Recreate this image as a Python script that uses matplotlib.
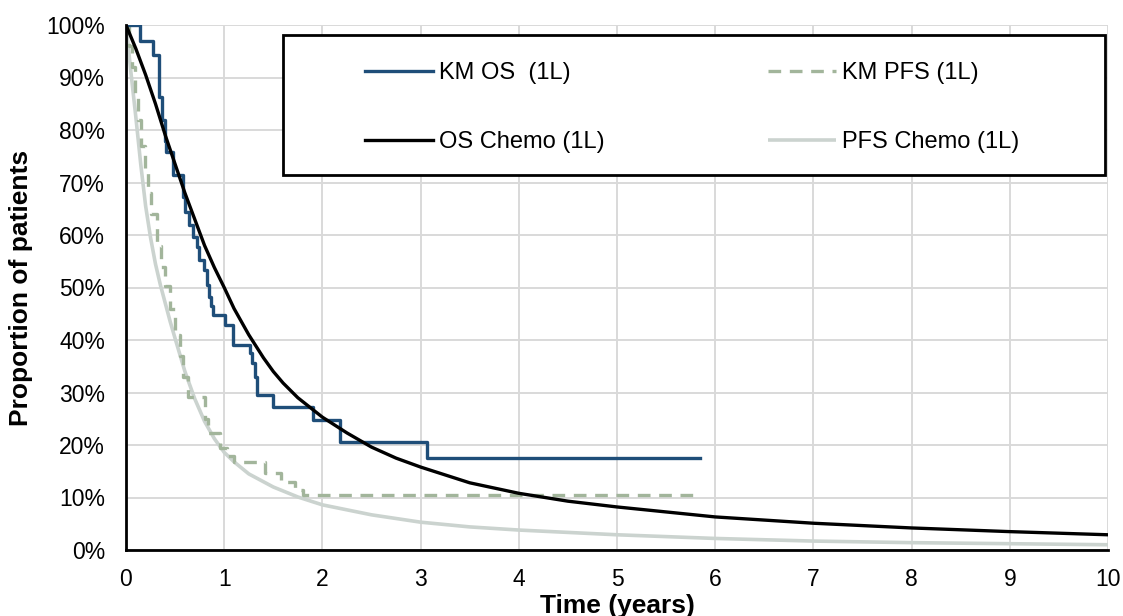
import matplotlib
matplotlib.use("Agg")
import matplotlib.pyplot as plt
from matplotlib.patches import Rectangle
from matplotlib.ticker import FuncFormatter

plt.rcParams['font.family'] = ['Liberation Sans', 'DejaVu Sans']

# ---- data ----
km_os_t = [0, 0.14, 0.28, 0.34, 0.37, 0.40, 0.41, 0.48, 0.58, 0.60, 0.64, 0.68, 0.72, 0.74,
           0.79, 0.82, 0.85, 0.87, 0.89, 1.01, 1.09, 1.26, 1.28, 1.31, 1.33, 1.50, 1.90,
           2.18, 3.07, 5.85]
km_os_s = [100, 97, 94.3, 86.3, 82, 78, 75.9, 71.4, 67.3, 64.4, 62, 59.7, 57.8, 55.2,
           53.3, 50.5, 48.2, 46.5, 44.8, 42.9, 39.0, 37.5, 35.6, 33, 29.5, 27.2, 24.8,
           20.6, 17.5, 17.5]

km_pfs_t = [0, 0.03, 0.06, 0.09, 0.12, 0.15, 0.19, 0.22, 0.25, 0.32, 0.36, 0.40, 0.45,
            0.50, 0.55, 0.58, 0.63, 0.80, 0.84, 0.96, 1.03, 1.10, 1.42, 1.58, 1.72, 1.80, 5.78]
km_pfs_s = [100, 96, 92, 87, 82, 77, 72, 68, 64, 58, 54, 50.2, 46, 41, 37, 33, 29.2, 25,
            22.2, 19.5, 18, 16.8, 14.7, 13, 11.5, 10.5, 10.5]

os_chemo_t = [0, 0.1, 0.2, 0.3, 0.4, 0.5, 0.6, 0.7, 0.8, 0.9, 1.0, 1.1, 1.25, 1.4, 1.5,
              1.6, 1.75, 2.0, 2.25, 2.5, 2.75, 3.0, 3.5, 4.0, 4.5, 5.0, 6.0, 7.0, 8.0,
              9.0, 10.0]
os_chemo_s = [100, 95.5, 90.5, 85, 79, 73.5, 68, 63, 58, 53.8, 50, 46, 41, 36.6, 34,
              31.8, 29, 25.3, 22.3, 19.6, 17.5, 15.8, 12.8, 10.8, 9.3, 8.2, 6.3, 5.1, 4.2,
              3.5, 2.9]

pfs_chemo_t = [0, 0.05, 0.1, 0.15, 0.2, 0.25, 0.3, 0.35, 0.4, 0.45, 0.5, 0.6, 0.7, 0.8,
               0.9, 1.0, 1.1, 1.25, 1.5, 1.75, 2.0, 2.5, 3.0, 3.5, 4.0, 5.0, 6.0, 7.0,
               8.0, 9.0, 10.0]
pfs_chemo_s = [100, 91, 82.5, 73.5, 65.5, 59.5, 54.5, 50.5, 47, 43.5, 40.3, 34, 28.8, 24.5,
               21.2, 18.6, 16.8, 14.5, 12, 10.1, 8.6, 6.7, 5.3, 4.4, 3.8, 2.9, 2.2, 1.7,
               1.4, 1.2, 1.0]

x_ticks = list(range(0, 11))
y_ticks = [0, 10, 20, 30, 40, 50, 60, 70, 80, 90, 100]

labels = ["KM OS  (1L)", "OS Chemo (1L)", "KM PFS (1L)", "PFS Chemo (1L)"]

# ---- figure ----
fig = plt.figure(figsize=(11.23, 6.16), dpi=100)
ax = fig.add_axes([126 / 1123, 1 - 550 / 616, (1108 - 126) / 1123, (550 - 25) / 616])

ax.set_xlim(0, 10)
ax.set_ylim(0, 100)
ax.set_xticks(x_ticks)
ax.set_yticks(y_ticks)
ax.yaxis.set_major_formatter(FuncFormatter(lambda v, p: f"{int(v)}%"))
ax.grid(True, color="#d9d9d9", linewidth=1.4)
ax.set_axisbelow(True)
for s in ["top", "right"]:
    ax.spines[s].set_visible(False)
for s in ["left", "bottom"]:
    ax.spines[s].set_color("black")
    ax.spines[s].set_linewidth(2.0)
    ax.spines[s].set_zorder(5)
ax.tick_params(axis="both", length=0, labelsize=16.5)
ax.tick_params(axis="y", pad=15)
ax.tick_params(axis="x", pad=13)

l_pfs_chemo, = ax.plot(pfs_chemo_t, pfs_chemo_s, color="#cbd3cf", lw=2.6, zorder=2,
                       solid_capstyle="butt", solid_joinstyle="round")
l_km_pfs, = ax.plot(km_pfs_t, km_pfs_s, color="#a2b59b", lw=2.4, ls=(0, (3.8, 2.6)),
                    drawstyle="steps-post", zorder=3)
l_km_os, = ax.plot(km_os_t, km_os_s, color="#1f4e79", lw=2.4, drawstyle="steps-post",
                   zorder=4)
l_os_chemo, = ax.plot(os_chemo_t, os_chemo_s, color="black", lw=2.4, zorder=4.5,
                      solid_joinstyle="round")

ax.set_xlabel("Time (years)", fontsize=19, fontweight="bold")
ax.set_ylabel("Proportion of patients", fontsize=19, fontweight="bold")
ax.xaxis.set_label_coords(0.5, -0.083)
ax.yaxis.set_label_coords(-0.095, 0.5)

# legend frame
x0 = (283 - 126) / 982
x1 = (1105 - 126) / 982
y1 = (550 - 35) / 525
y0 = (550 - 175) / 525
rect = Rectangle((x0, y0), x1 - x0, y1 - y0, transform=ax.transAxes, facecolor="white",
                 edgecolor="black", linewidth=2.0, zorder=6)
ax.add_patch(rect)

leg = ax.legend([l_km_os, l_os_chemo, l_km_pfs, l_pfs_chemo], labels, ncol=2,
                loc="upper left",
                bbox_to_anchor=((365 - 126) / 982, (550 - 62) / 525),
                frameon=False, fontsize=17, handlelength=2.9, handletextpad=0.25,
                columnspacing=6.9, labelspacing=2.0, borderpad=0, borderaxespad=0)
leg.set_zorder(7)

fig.savefig("out.png", dpi=100)
